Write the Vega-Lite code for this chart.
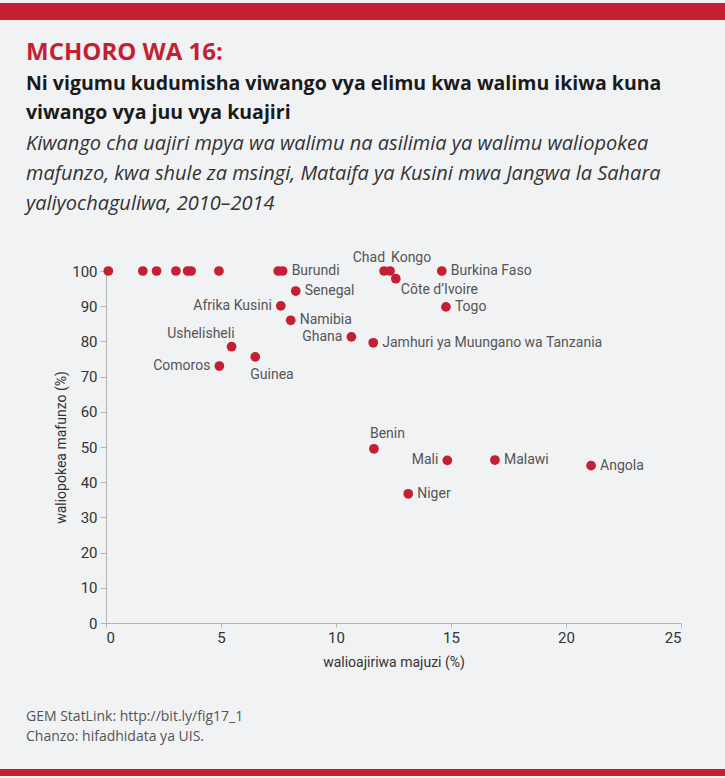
{
  "$schema": "https://vega.github.io/schema/vega-lite/v6.json",
  "background": "#f1f2f4",
  "padding": {"left": 0, "right": 0, "top": 3, "bottom": 2},
  "spacing": 20,
  "config": {
    "view": {"stroke": null},
    "font": "Roboto, sans-serif",
    "axis": {
      "grid": false,
      "domainColor": "#b4b4b4",
      "tickColor": "#b4b4b4",
      "labelColor": "#333333",
      "labelFontSize": 15,
      "titleColor": "#333333",
      "titleFontSize": 14,
      "titleFontWeight": "normal",
      "labelFont": "Roboto, sans-serif",
      "titleFont": "Roboto, sans-serif"
    }
  },
  "vconcat": [
    {
      "width": 725,
      "height": 17,
      "data": {"values": [{}]},
      "mark": {"type": "rect", "color": "#c41f33"},
      "encoding": {},
      "view": {"fill": "#c41f33", "stroke": null}
    },
    {
      "title": {
        "text": "GEM StatLink: http://bit.ly/fig17_1",
        "subtitle": ["Chanzo: hifadhidata ya UIS.", " "],
        "orient": "bottom",
        "anchor": "start",
        "dx": 26,
        "offset": 41,
        "font": "Open Sans",
        "fontSize": 14,
        "fontWeight": "normal",
        "color": "#555555",
        "subtitleFont": "Open Sans",
        "subtitleFontSize": 14,
        "subtitleColor": "#555555",
        "subtitlePadding": 6,
        "subtitleLineHeight": 5
      },
      "vconcat": [
        {
          "title": {
            "text": "MCHORO WA 16:",
            "subtitle": ["Ni vigumu kudumisha viwango vya elimu kwa walimu ikiwa kuna", "viwango vya juu vya kuajiri"],
            "anchor": "start",
            "dx": 26,
            "offset": 12,
            "font": "Open Sans",
            "fontSize": 24,
            "fontWeight": 700,
            "color": "#c41f33",
            "subtitleFont": "Open Sans",
            "subtitleFontSize": 19.5,
            "subtitleFontWeight": 700,
            "subtitleColor": "#1a1a1a",
            "subtitleLineHeight": 29,
            "subtitlePadding": 10
          },
          "vconcat": [
            {
              "title": {
                "text": ["Kiwango cha uajiri mpya wa walimu na asilimia ya walimu waliopokea", "mafunzo, kwa shule za msingi, Mataifa ya Kusini mwa Jangwa la Sahara", "yaliyochaguliwa, 2010–2014"],
                "anchor": "start",
                "dx": 26,
                "offset": 37,
                "font": "Open Sans",
                "fontSize": 20,
                "fontStyle": "italic",
                "fontWeight": "normal",
                "lineHeight": 30,
                "color": "#333333"
              },
              "spacing": 44,
              "hconcat": [
                {
                  "width": 10,
                  "height": 352,
                  "data": {"values": [{}]},
                  "mark": {"type": "point", "opacity": 0},
                  "encoding": {}
                },
                {
                  "width": 575,
                  "height": 352,
                  "data": {
                    "values": [
                      {"country": "", "recruited": 0.1, "trained": 100},
                      {"country": "", "recruited": 1.6, "trained": 100},
                      {"country": "", "recruited": 2.2, "trained": 100},
                      {"country": "", "recruited": 3.04, "trained": 100},
                      {"country": "", "recruited": 3.55, "trained": 100},
                      {"country": "", "recruited": 3.7, "trained": 100},
                      {"country": "", "recruited": 4.91, "trained": 100},
                      {"country": "", "recruited": 7.49, "trained": 100},
                      {"country": "Burundi", "recruited": 7.68, "trained": 100},
                      {"country": "Chad", "recruited": 12.09, "trained": 100},
                      {"country": "Kongo", "recruited": 12.35, "trained": 100},
                      {"country": "Côte d’Ivoire", "recruited": 12.6, "trained": 97.8},
                      {"country": "Burkina Faso", "recruited": 14.6, "trained": 100},
                      {"country": "Senegal", "recruited": 8.25, "trained": 94.3},
                      {"country": "Afrika Kusini", "recruited": 7.6, "trained": 90.1},
                      {"country": "Togo", "recruited": 14.78, "trained": 89.8},
                      {"country": "Namibia", "recruited": 8.03, "trained": 86.0},
                      {"country": "Ghana", "recruited": 10.67, "trained": 81.3},
                      {"country": "Jamhuri ya Muungano wa Tanzania", "recruited": 11.62, "trained": 79.6},
                      {"country": "Ushelisheli", "recruited": 5.46, "trained": 78.5},
                      {"country": "Guinea", "recruited": 6.49, "trained": 75.6},
                      {"country": "Comoros", "recruited": 4.93, "trained": 73.0},
                      {"country": "Benin", "recruited": 11.65, "trained": 49.5},
                      {"country": "Mali", "recruited": 14.84, "trained": 46.2},
                      {"country": "Malawi", "recruited": 16.91, "trained": 46.3},
                      {"country": "Angola", "recruited": 21.09, "trained": 44.7},
                      {"country": "Niger", "recruited": 13.14, "trained": 36.7}
                    ]
                  },
                  "encoding": {
                    "x": {
                      "field": "recruited",
                      "type": "quantitative",
                      "scale": {"domain": [0, 25], "nice": false},
                      "axis": {
                        "title": "walioajiriwa majuzi (%)",
                        "values": [0, 5, 10, 15, 20, 25],
                        "tickSize": 4,
                        "labelPadding": 3,
                        "titlePadding": 10
                      }
                    },
                    "y": {
                      "field": "trained",
                      "type": "quantitative",
                      "scale": {"domain": [0, 100], "nice": false},
                      "axis": {
                        "title": "waliopokea mafunzo (%)",
                        "values": [0, 10, 20, 30, 40, 50, 60, 70, 80, 90, 100],
                        "tickSize": 6,
                        "labelPadding": 3,
                        "titlePadding": 3
                      }
                    }
                  },
                  "layer": [
                    {
                      "mark": {"type": "circle", "size": 95, "color": "#c41f33", "opacity": 1}
                    },
                    {
                      "transform": [{"filter": {"field": "country", "oneOf": ["Burundi", "Senegal", "Namibia", "Jamhuri ya Muungano wa Tanzania", "Burkina Faso", "Togo", "Malawi", "Angola", "Niger"]}}],
                      "mark": {"type": "text", "align": "left", "baseline": "middle", "dx": 9, "fontSize": 14, "color": "#555555"},
                      "encoding": {"text": {"field": "country"}}
                    },
                    {
                      "transform": [{"filter": {"field": "country", "oneOf": ["Afrika Kusini", "Comoros", "Ghana", "Mali"]}}],
                      "mark": {"type": "text", "align": "right", "baseline": "middle", "dx": -9, "fontSize": 14, "color": "#555555"},
                      "encoding": {"text": {"field": "country"}}
                    },
                    {
                      "transform": [{"filter": {"field": "country", "equal": "Chad"}}],
                      "mark": {"type": "text", "align": "right", "baseline": "middle", "dx": 1, "dy": -13, "fontSize": 14, "color": "#555555"},
                      "encoding": {"text": {"field": "country"}}
                    },
                    {
                      "transform": [{"filter": {"field": "country", "equal": "Ushelisheli"}}],
                      "mark": {"type": "text", "align": "right", "baseline": "middle", "dx": 3, "dy": -13, "fontSize": 14, "color": "#555555"},
                      "encoding": {"text": {"field": "country"}}
                    },
                    {
                      "transform": [{"filter": {"field": "country", "equal": "Kongo"}}],
                      "mark": {"type": "text", "align": "left", "baseline": "middle", "dx": 1, "dy": -13, "fontSize": 14, "color": "#555555"},
                      "encoding": {"text": {"field": "country"}}
                    },
                    {
                      "transform": [{"filter": {"field": "country", "equal": "Benin"}}],
                      "mark": {"type": "text", "align": "left", "baseline": "middle", "dx": -4, "dy": -15, "fontSize": 14, "color": "#555555"},
                      "encoding": {"text": {"field": "country"}}
                    },
                    {
                      "transform": [{"filter": {"field": "country", "equal": "Guinea"}}],
                      "mark": {"type": "text", "align": "left", "baseline": "middle", "dx": -5, "dy": 18, "fontSize": 14, "color": "#555555"},
                      "encoding": {"text": {"field": "country"}}
                    },
                    {
                      "transform": [{"filter": {"field": "country", "equal": "Côte d’Ivoire"}}],
                      "mark": {"type": "text", "align": "left", "baseline": "middle", "dx": 5, "dy": 11, "fontSize": 14, "color": "#555555"},
                      "encoding": {"text": {"field": "country"}}
                    }
                  ]
                }
              ]
            }
          ]
        }
      ]
    },
    {
      "width": 725,
      "height": 7,
      "data": {"values": [{}]},
      "mark": {"type": "rect", "color": "#c41f33"},
      "encoding": {},
      "view": {"fill": "#c41f33", "stroke": null}
    }
  ]
}
